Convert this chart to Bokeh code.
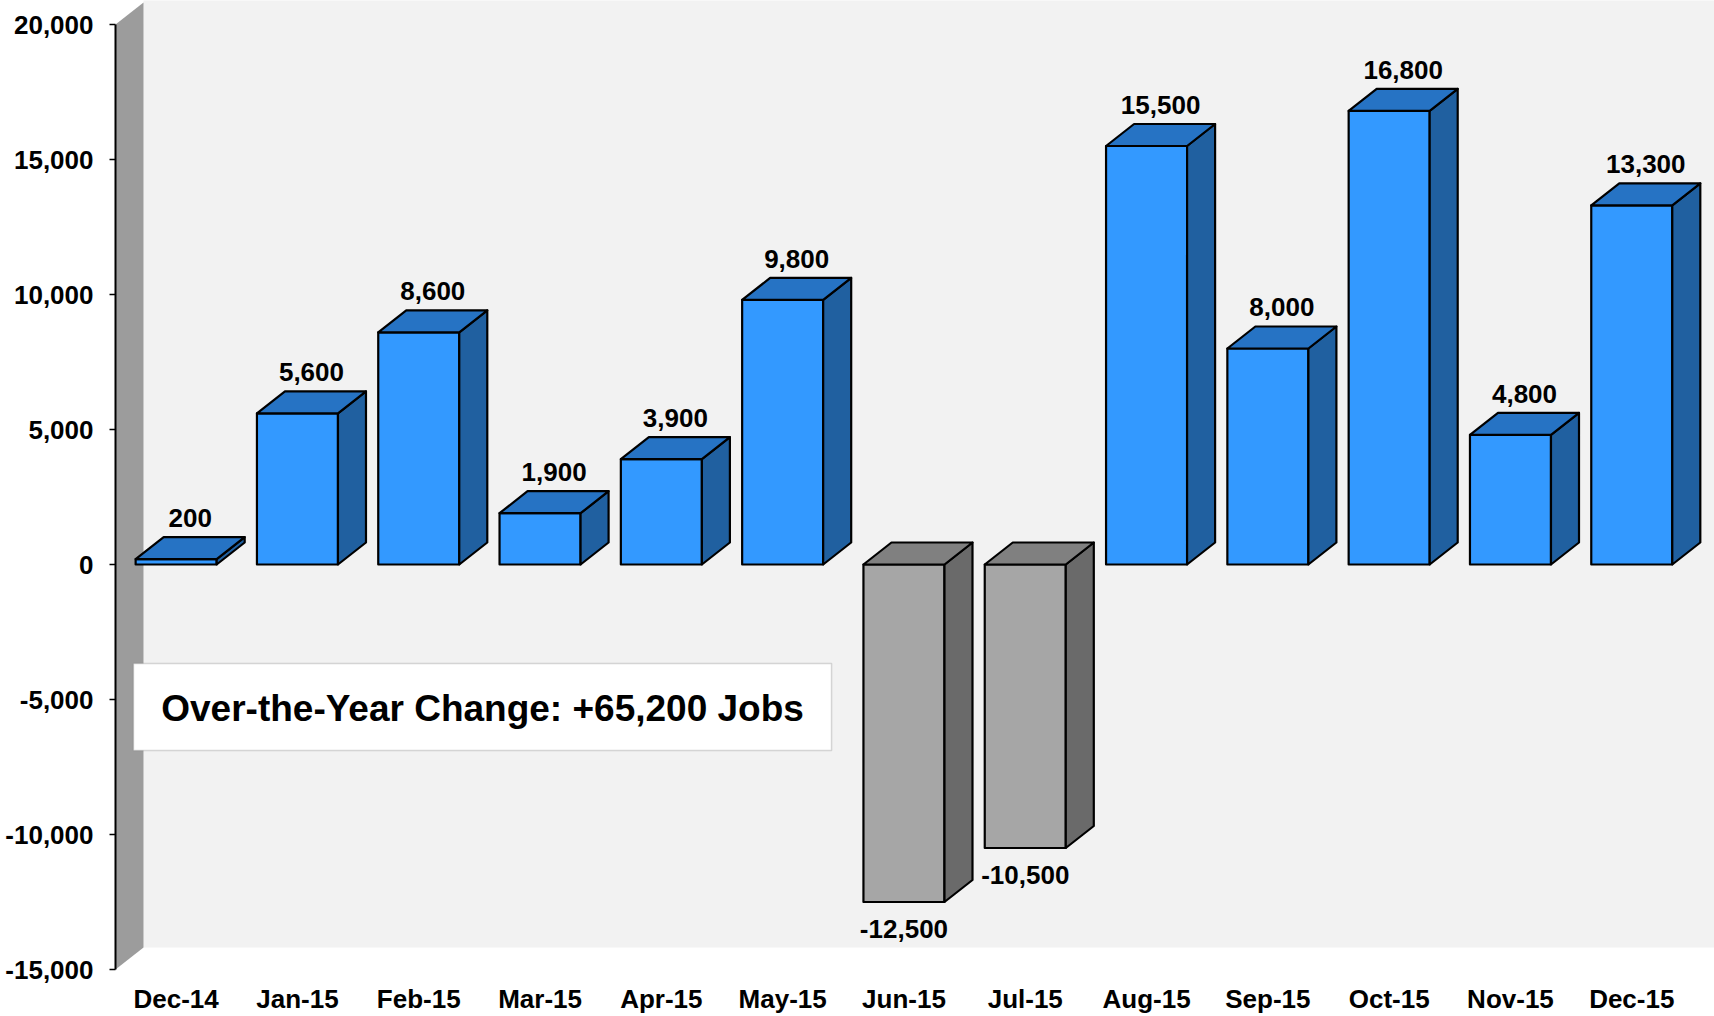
from bokeh.plotting import figure
from bokeh.models import Range1d, FixedTicker, NumeralTickFormatter, BoxAnnotation, Label, ColumnDataSource
from bokeh.core.properties import value
from bokeh.embed import file_html
from bokeh.resources import INLINE

# ---- data ----
categories = ["Dec-14", "Jan-15", "Feb-15", "Mar-15", "Apr-15", "May-15", "Jun-15",
              "Jul-15", "Aug-15", "Sep-15", "Oct-15", "Nov-15", "Dec-15"]
changes = [200, 5600, 8600, 1900, 3900, 9800, -12500, -10500, 15500, 8000, 16800, 4800, 13300]
y_ticks = [-15000, -10000, -5000, 0, 5000, 10000, 15000, 20000]
note_text = "Over-the-Year Change: +65,200 Jobs"

# ---- style constants ----
FONT = "Liberation Sans"
DX = 0.231      # 3-D depth in x (category units)
DY = 815        # 3-D depth in y (data units)
HALF = 0.334    # half bar width
POS_FRONT, POS_TOP, POS_SIDE = "#3399ff", "#2673c4", "#2060a0"
NEG_FRONT, NEG_TOP, NEG_SIDE = "#a6a6a6", "#808080", "#6a6a6a"

p = figure(width=1714, height=1016, output_backend="svg", toolbar_location=None,
           x_range=Range1d(0, 13.182), y_range=Range1d(-15000, 20889),
           min_border_left=115, min_border_right=0, min_border_top=0, min_border_bottom=47)
p.background_fill_color = "white"
p.border_fill_color = "white"
p.outline_line_color = None
p.grid.visible = False

# back wall and side wall
p.quad(left=DX, right=14, bottom=-15000 + DY, top=22000, fill_color="#f2f2f2", line_color=None)
p.patch([0, 0, DX, DX], [-15000, 20000, 20000 + DY, -15000 + DY],
        fill_color="#9c9c9c", line_color=None)

# 3-D bars
fx, fy, fc, tx, ty, tc, sx, sy, sc = [], [], [], [], [], [], [], [], []
for i, v in enumerate(changes):
    c = i + 0.5
    x0, x1 = c - HALF, c + HALF
    top, bot = max(v, 0), min(v, 0)
    pos = v >= 0
    fx.append([x0, x1, x1, x0]); fy.append([bot, bot, top, top])
    fc.append(POS_FRONT if pos else NEG_FRONT)
    tx.append([x0, x0 + DX, x1 + DX, x1]); ty.append([top, top + DY, top + DY, top])
    tc.append(POS_TOP if pos else NEG_TOP)
    sx.append([x1, x1 + DX, x1 + DX, x1]); sy.append([bot, bot + DY, top + DY, top])
    sc.append(POS_SIDE if pos else NEG_SIDE)

for xs, ys, cs in ((fx, fy, fc), (sx, sy, sc), (tx, ty, tc)):
    p.patches(xs=xs, ys=ys, fill_color=cs, line_color="black", line_width=2.2,
              line_join="round")

# value labels
pos_src = ColumnDataSource(dict(
    x=[i + 0.5 + DX / 2 for i, v in enumerate(changes) if v >= 0],
    y=[v + DY for v in changes if v >= 0],
    t=[f"{v:,}" for v in changes if v >= 0]))
neg_src = ColumnDataSource(dict(
    x=[i + 0.5 for i, v in enumerate(changes) if v < 0],
    y=[v for v in changes if v < 0],
    t=[f"{v:,}" for v in changes if v < 0]))
p.text(x="x", y="y", text="t", source=pos_src, text_align="center",
       text_baseline="alphabetic", y_offset=-19, text_font=value(FONT),
       text_font_style="bold", text_font_size="26px", text_color="black")
p.text(x="x", y="y", text="t", source=neg_src, text_align="center",
       text_baseline="top", y_offset=18, text_font=value(FONT),
       text_font_style="bold", text_font_size="26px", text_color="black")

# summary box
p.add_layout(BoxAnnotation(left=0.148, right=5.903, top=-3667, bottom=-6889,
                           fill_color="white", fill_alpha=1.0,
                           line_color="#7f7f7f", line_width=1.5))
p.add_layout(Label(x=3.026, y=-5333, text=note_text, text_align="center",
                   text_baseline="middle", text_font=FONT, text_font_style="bold",
                   text_font_size="37px", text_color="black"))

# axes
p.yaxis.ticker = FixedTicker(ticks=y_ticks)
p.yaxis.formatter = NumeralTickFormatter(format="0,0")
p.yaxis.bounds = (-15000, 20000)
p.yaxis.axis_line_width = 2
p.yaxis.axis_line_color = "black"
p.yaxis.major_tick_out = 6
p.yaxis.major_tick_in = 0
p.yaxis.major_tick_line_width = 1.5
p.yaxis.minor_tick_line_color = None
p.yaxis.major_label_standoff = 16
p.yaxis.major_label_text_font = FONT
p.yaxis.major_label_text_font_style = "bold"
p.yaxis.major_label_text_font_size = "26px"
p.yaxis.major_label_text_color = "black"

p.xaxis.ticker = FixedTicker(ticks=[i + 0.5 for i in range(len(categories))])
p.xaxis.major_label_overrides = {i + 0.5: c for i, c in enumerate(categories)}
p.xaxis.axis_line_color = None
p.xaxis.major_tick_line_color = None
p.xaxis.minor_tick_line_color = None
p.xaxis.major_label_standoff = 8
p.xaxis.major_label_text_font = FONT
p.xaxis.major_label_text_font_style = "bold"
p.xaxis.major_label_text_font_size = "26px"
p.xaxis.major_label_text_color = "black"

open("out.html", "w").write(file_html(p, INLINE))
